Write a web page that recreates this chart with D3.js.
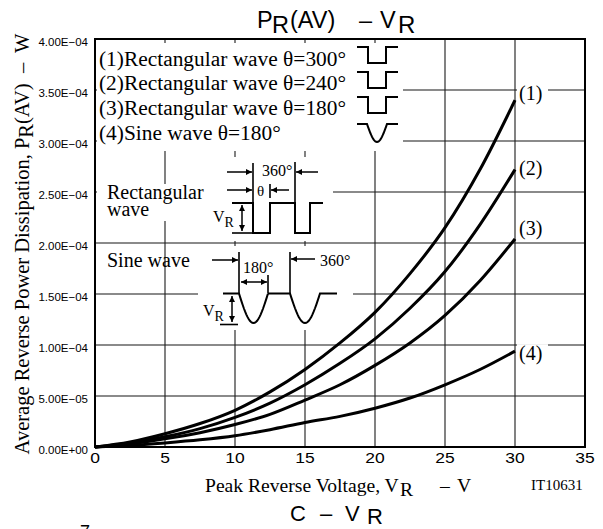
<!DOCTYPE html>
<html><head><meta charset="utf-8">
<script src="https://cdn.jsdelivr.net/npm/d3@7"></script>
<style>
body{margin:0;background:#fff}
svg{display:block}
text{white-space:pre}
</style></head><body>
<svg id="c" width="603" height="529"></svg>
<script>
// ---------- data ----------
const voltage = [0, 2.5, 5, 7.5, 10, 12.5, 15, 17.5, 20, 22.5, 25, 27.5, 30];
const rect300 = [0, 0.05e-4, 0.13e-4, 0.23e-4, 0.36e-4, 0.54e-4, 0.76e-4, 1.02e-4, 1.32e-4, 1.70e-4, 2.15e-4, 2.72e-4, 3.40e-4];
const rect240 = [0, 0.04e-4, 0.10e-4, 0.18e-4, 0.29e-4, 0.43e-4, 0.61e-4, 0.82e-4, 1.06e-4, 1.36e-4, 1.72e-4, 2.18e-4, 2.72e-4];
const rect180 = [0, 0.03e-4, 0.08e-4, 0.14e-4, 0.22e-4, 0.32e-4, 0.46e-4, 0.61e-4, 0.80e-4, 1.02e-4, 1.29e-4, 1.63e-4, 2.04e-4];
const sine180 = [0, 0.015e-4, 0.04e-4, 0.07e-4, 0.11e-4, 0.17e-4, 0.24e-4, 0.30e-4, 0.38e-4, 0.48e-4, 0.61e-4, 0.76e-4, 0.94e-4];
const seriesNames = ["(1)", "(2)", "(3)", "(4)"];
const legendLabels = ["(1)Rectangular wave θ=300°", "(2)Rectangular wave θ=240°", "(3)Rectangular wave θ=180°", "(4)Sine wave θ=180°"];
const xTicks = [0, 5, 10, 15, 20, 25, 30, 35];
const xTickLabels = ["0", "5", "10", "15", "20", "25", "30", "35"];
const yTicks = [0, 0.5e-4, 1.0e-4, 1.5e-4, 2.0e-4, 2.5e-4, 3.0e-4, 3.5e-4, 4.0e-4];
const yTickLabels = ["0.00E+00", "5.00E−05", "1.00E−04", "1.50E−04", "2.00E−04", "2.50E−04", "3.00E−04", "3.50E−04", "4.00E−04"];

// ---------- layout ----------
const SERIF = '"Liberation Serif","Times New Roman",serif';
const SANS = '"Liberation Sans",Arial,sans-serif';
const svg = d3.select("#c");
const x = d3.scaleLinear().domain([0, 35]).range([95, 585]);
const y = d3.scaleLinear().domain([0, 4e-4]).range([447, 39]);

const defs = svg.append("defs");
defs.append("marker").attr("id", "ah").attr("viewBox", "0 0 10 10")
  .attr("refX", 10).attr("refY", 5).attr("markerUnits", "userSpaceOnUse")
  .attr("markerWidth", 9).attr("markerHeight", 6).attr("orient", "auto-start-reverse")
  .append("path").attr("d", "M0,0L10,5L0,10z").attr("fill", "#000");

// parts: {t, sub, x, size}
function rich(g, px, py, parts, size, family, shift) {
  const t = g.append("text").attr("x", px).attr("y", py)
    .attr("font-family", family).attr("font-size", size).attr("fill", "#000");
  let cur = 0;
  parts.forEach(p => {
    const s = t.append("tspan").text(p.t);
    const want = p.sub ? shift : 0;
    if (want !== cur) { s.attr("dy", want - cur); cur = want; }
    if (p.size) s.attr("font-size", p.size);
    if (p.x !== undefined) s.attr("x", p.x);
  });
  return t;
}
function arrow(g, x1, y1, x2, y2, both) {
  const l = g.append("line").attr("x1", x1).attr("y1", y1).attr("x2", x2).attr("y2", y2)
    .attr("stroke", "#000").attr("stroke-width", 1.5).attr("marker-end", "url(#ah)");
  if (both) l.attr("marker-start", "url(#ah)");
}
function seg(g, x1, y1, x2, y2, w) {
  g.append("line").attr("x1", x1).attr("y1", y1).attr("x2", x2).attr("y2", y2)
    .attr("stroke", "#000").attr("stroke-width", w || 1.6);
}

// horizontal grid
svg.append("g").selectAll("line").data(yTicks.slice(1, -1)).join("line")
  .attr("x1", x(0)).attr("x2", x(35)).attr("y1", d => y(d)).attr("y2", d => y(d))
  .attr("stroke", "#8a8a8a").attr("stroke-width", 1.8);

// masks behind curve labels (hide horizontal grid only)
const series = [rect300, rect240, rect180, sine180];
const labelOffsets = [-6, -1, -10, 3];
svg.append("g").selectAll("rect").data(series).join("rect")
  .attr("x", x(30) + 2).attr("width", 31)
  .attr("y", (d, i) => y(d[d.length - 1]) + labelOffsets[i] - 10).attr("height", 20)
  .attr("fill", "#fff");

// vertical grid
svg.append("g").selectAll("line").data(xTicks.slice(1, -1)).join("line")
  .attr("x1", d => x(d)).attr("x2", d => x(d)).attr("y1", y(4e-4)).attr("y2", y(0))
  .attr("stroke", "#1a1a1a").attr("stroke-width", 1.1);

// annotation masks
const masks = [[97, 43, 306, 108], [200, 157, 133, 84], [97, 184, 115, 37], [198, 246, 155, 84]];
svg.append("g").selectAll("rect").data(masks).join("rect")
  .attr("x", d => d[0]).attr("y", d => d[1]).attr("width", d => d[2]).attr("height", d => d[3])
  .attr("fill", "#fff");

// curves
const line = d3.line().x((d, i) => x(voltage[i])).y(d => y(d)).curve(d3.curveMonotoneX);
svg.append("g").selectAll("path").data(series).join("path")
  .attr("d", line).attr("fill", "none").attr("stroke", "#000").attr("stroke-width", 3);

// frame
svg.append("rect").attr("x", x(0)).attr("y", y(4e-4)).attr("width", x(35) - x(0)).attr("height", y(0) - y(4e-4))
  .attr("fill", "none").attr("stroke", "#000").attr("stroke-width", 2);

// curve labels
svg.append("g").selectAll("text").data(series).join("text")
  .attr("x", x(30) + 4).attr("y", (d, i) => y(d[d.length - 1]) + labelOffsets[i] + 6)
  .attr("font-family", SERIF).attr("font-size", 20).text((d, i) => seriesNames[i]);

// y tick labels
svg.append("g").selectAll("text").data(yTicks).join("text")
  .attr("x", 88).attr("y", d => y(d) + 6.5).attr("text-anchor", "end")
  .attr("font-family", SANS).attr("font-size", 11.5).attr("fill", "#000")
  .text((d, i) => yTickLabels[i]);

// x tick labels
svg.append("g").selectAll("text").data(xTicks).join("text")
  .attr("transform", d => `translate(${x(d)},463) scale(1.25,1)`).attr("text-anchor", "middle")
  .attr("font-family", SANS).attr("font-size", 14).attr("fill", "#000")
  .text((d, i) => xTickLabels[i]);

// legend
const lg = svg.append("g");
lg.selectAll("text").data(legendLabels).join("text")
  .attr("transform", (d, i) => `translate(99,${65.5 + i * 24.8}) scale(1.07,1)`)
  .attr("font-family", SERIF).attr("font-size", 20).text(d => d);
[[47, 63], [72, 88], [97, 113]].forEach(r => {
  lg.append("path").attr("d", `M357,${r[0]}H368V${r[1]}H386V${r[0]}H398`)
    .attr("fill", "none").attr("stroke", "#000").attr("stroke-width", 2);
});
function uPath(x0, x1, top, depth, pre, post) {
  const pts = [[x0 - pre, top]];
  for (let k = 0; k <= 24; k++) { const t = k / 24; pts.push([x0 + t * (x1 - x0), top + depth * Math.sin(Math.PI * t)]); }
  pts.push([x1 + post, top]);
  return d3.line()(pts);
}
lg.append("path").attr("d", uPath(367, 387, 124, 18, 10, 11)).attr("fill", "none").attr("stroke", "#000").attr("stroke-width", 2);

// rectangular wave annotation
const ra = svg.append("g");
ra.append("text").attr("x", 107).attr("y", 199).attr("font-family", SERIF).attr("font-size", 20).text("Rectangular");
ra.append("text").attr("x", 107).attr("y", 216).attr("font-family", SERIF).attr("font-size", 20).text("wave");
ra.append("path").attr("d", "M232,203H253V233H270V203H295V233H310V203H323").attr("fill", "none").attr("stroke", "#000").attr("stroke-width", 2);
seg(ra, 253, 163, 253, 203); seg(ra, 295, 162, 295, 203); seg(ra, 270, 184, 270, 198);
ra.append("text").attr("x", 262).attr("y", 176).attr("font-family", SERIF).attr("font-size", 16).text("360°");
ra.append("text").attr("x", 257).attr("y", 196).attr("font-family", SERIF).attr("font-size", 15).text("θ");
arrow(ra, 227, 172, 252, 172); arrow(ra, 318, 172, 296, 172);
arrow(ra, 227, 190, 252, 190); arrow(ra, 289, 190, 271, 190);
arrow(ra, 242, 205, 242, 231, true); seg(ra, 232, 233, 252, 233);
rich(ra, 213, 222, [{t: "V"}, {t: "R", sub: true, size: 14}], 16, SERIF, 5);

// sine wave annotation
const sa = svg.append("g");
sa.append("text").attr("x", 107).attr("y", 267).attr("font-family", SERIF).attr("font-size", 20).text("Sine wave");
arrow(sa, 212, 260, 238, 260);
seg(sa, 239, 252, 239, 293); seg(sa, 268, 275, 268, 293); seg(sa, 290, 252, 290, 293);
sa.append("text").attr("x", 243).attr("y", 273).attr("font-family", SERIF).attr("font-size", 16).text("180°");
arrow(sa, 241, 282, 267, 282, true);
arrow(sa, 315, 259, 291, 259);
sa.append("text").attr("x", 320).attr("y", 266).attr("font-family", SERIF).attr("font-size", 16).text("360°");
sa.append("path").attr("d", uPath(239, 268, 293.5, 29.5, 16, 0)).attr("fill", "none").attr("stroke", "#000").attr("stroke-width", 2);
sa.append("path").attr("d", uPath(290, 320, 293.5, 29.5, 22, 17)).attr("fill", "none").attr("stroke", "#000").attr("stroke-width", 2);
arrow(sa, 232, 296, 232, 322, true); seg(sa, 220, 324.5, 238, 324.5);
rich(sa, 203, 316, [{t: "V"}, {t: "R", sub: true, size: 14}], 16, SERIF, 5);

// titles
rich(svg, 257, 28, [{t: "P"}, {t: "R", sub: true, x: 272}, {t: "(AV)", x: 290}, {t: "–", x: 359}, {t: "V", x: 380}, {t: "R", sub: true, x: 398, size: 24}], 23.5, SANS, 5);
rich(svg, 290, 521, [{t: "C"}, {t: "–", x: 320}, {t: "V", x: 345}, {t: "R", sub: true, x: 367}], 22, SANS, 3);
rich(svg, 205, 492, [{t: "Peak Reverse Voltage, V"}, {t: "R", sub: true, x: 400}, {t: "–", x: 440}, {t: "V", x: 457}], 19.6, SERIF, 4);
rich(svg.append("g").attr("transform", "translate(29,244) rotate(-90)"), 0, 0,
  [{t: "Average Reverse Power Dissipation, P"}, {t: "R", sub: true}, {t: "(AV)  –  W"}], 20.5, SERIF, 4)
  .attr("text-anchor", "middle");
svg.append("text").attr("x", 531).attr("y", 490).attr("font-family", SERIF).attr("font-size", 15).text("IT10631");
svg.append("text").attr("x", 80).attr("y", 538).attr("font-family", SANS).attr("font-size", 18).text("7");
</script>
</body></html>
